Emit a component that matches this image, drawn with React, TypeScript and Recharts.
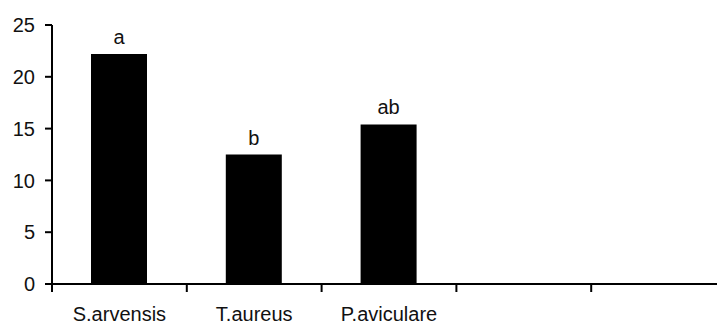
import { BarChart, Bar, XAxis, YAxis, LabelList } from 'recharts';

const categories = ['S.arvensis', 'T.aureus', 'P.aviculare', '', ''];
const values = [22.2, 12.5, 15.4, null, null];
const letters = ['a', 'b', 'ab', '', ''];
const yTicks = [0, 5, 10, 15, 20, 25];

const data = categories.map((name, i) => ({ name, value: values[i], letter: letters[i] }));

const CHART_W = 728;
const CHART_H = 325;
const Y_AXIS_W = 52;
const RIGHT = 2;
const BAND = (CHART_W - Y_AXIS_W - RIGHT) / categories.length;
const FONT = '"Liberation Sans", Arial, sans-serif';

// category ticks sit on the band edges, labels in the middle
const CategoryTick = (props: any) => {
  const { x, y, payload } = props;
  const left = x - BAND / 2;
  return (
    <g>
      <line x1={left} y1={y} x2={left} y2={y + 8} stroke="#000" strokeWidth={2} />
      {payload.value ? (
        <text x={x} y={y + 23} dy="0.71em" textAnchor="middle" fontSize={20} fontFamily={FONT} fill="#111">
          {payload.value}
        </text>
      ) : null}
    </g>
  );
};

const App = () => {
  return (
    <div style={{ position: 'absolute', top: 0, left: 0, width: 717, height: CHART_H, overflow: 'hidden' }}>
      <BarChart
        width={CHART_W}
        height={CHART_H}
        data={data}
        margin={{ top: 25, right: RIGHT, left: 0, bottom: 0 }}
      >
        <XAxis
          dataKey="name"
          height={41}
          tickSize={0}
          tickMargin={0}
          tickLine={false}
          axisLine={{ stroke: '#000', strokeWidth: 2 }}
          tick={<CategoryTick />}
          interval={0}
        />
        <YAxis
          width={Y_AXIS_W}
          domain={[0, 25]}
          ticks={yTicks}
          interval={0}
          tickSize={7}
          tickMargin={10}
          axisLine={{ stroke: '#000', strokeWidth: 2 }}
          tickLine={{ stroke: '#000', strokeWidth: 2 }}
          tick={{ fontSize: 20, fontFamily: FONT, fill: '#111' }}
        />
        <Bar dataKey="value" fill="#000" barSize={56} isAnimationActive={false}>
          <LabelList dataKey="letter" position="top" offset={10} fontSize={20} fontFamily={FONT} fill="#111" />
        </Bar>
      </BarChart>
    </div>
  );
};

export default App;
